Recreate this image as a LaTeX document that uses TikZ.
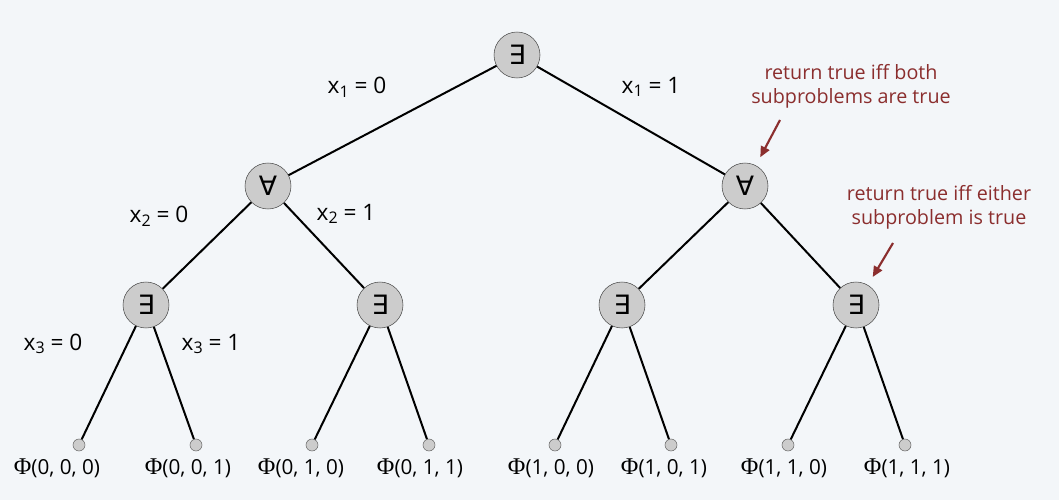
\documentclass[tikz,border=0pt]{standalone}
\usepackage{fontspec}
\setmainfont{Open Sans}
\newfontfamily\symfont{DejaVu Sans}
\newfontfamily\phifont{Liberation Serif}
\usetikzlibrary{arrows.meta}
\definecolor{bg}{HTML}{F3F6F9}
\definecolor{notecol}{HTML}{8B2E2E}
\newcommand{\leaflabel}[1]{{\phifont\fontsize{18}{18}\selectfont Φ}(#1)}
\newcommand{\xsub}[1]{x\raisebox{-0.3ex}{\fontsize{12}{12}\selectfont #1}}
\begin{document}
\begin{tikzpicture}[x=0.75pt,y=-0.75pt,
  opnode/.style={circle, draw=black!70, fill=gray!40, minimum size=34.5pt, inner sep=0pt,
    font=\symfont\fontsize{20}{20}\selectfont},
  leafnode/.style={circle, draw=black!60, fill=gray!40, minimum size=9pt, inner sep=0pt},
  edge/.style={draw=black, line width=1.5pt},
  edgelabel/.style={font=\fontsize{17}{19}\selectfont, inner sep=0pt},
  leaflab/.style={font=\fontsize{15.5}{17}\selectfont, inner sep=0pt},
  notetext/.style={text=notecol, align=center, font=\fontsize{14.8}{18}\selectfont, inner sep=0pt},
  notearrow/.style={draw=notecol, line width=1.6pt, -{Triangle[length=8pt,width=7pt]}, shorten >=7pt}
]
\fill[bg] (0,0) rectangle (1059,500);
\useasboundingbox (0,0) rectangle (1059,500);

% operator nodes
\node[opnode] (r) at (517,55) {∃};
\node[opnode] (a1) at (268,186) {∀};
\node[opnode] (a2) at (745,186) {∀};
\node[opnode] (e1) at (146,305) {∃};
\node[opnode] (e2) at (380,305) {∃};
\node[opnode] (e3) at (622,305) {∃};
\node[opnode] (e4) at (856,305) {∃};

% leaves
\node[leafnode] (l1) at (79,445) {};
\node[leafnode] (l2) at (196,445) {};
\node[leafnode] (l3) at (312,445) {};
\node[leafnode] (l4) at (429,445) {};
\node[leafnode] (l5) at (555,445) {};
\node[leafnode] (l6) at (671,445) {};
\node[leafnode] (l7) at (788,445) {};
\node[leafnode] (l8) at (905,445) {};

% edges
\draw[edge] (r) -- (a1);
\draw[edge] (r) -- (a2);
\draw[edge] (a1) -- (e1);
\draw[edge] (a1) -- (e2);
\draw[edge] (a2) -- (e3);
\draw[edge] (a2) -- (e4);
\draw[edge] (e1) -- (l1);
\draw[edge] (e1) -- (l2);
\draw[edge] (e2) -- (l3);
\draw[edge] (e2) -- (l4);
\draw[edge] (e3) -- (l5);
\draw[edge] (e3) -- (l6);
\draw[edge] (e4) -- (l7);
\draw[edge] (e4) -- (l8);

% edge labels
\node[edgelabel] (t1) at (357,87) {\xsub{1} = 0};
\node[edgelabel] (t2) at (651,87) {\xsub{1} = 1};
\node[edgelabel] (t3) at (159,216) {\xsub{2} = 0};
\node[edgelabel] (t4) at (346,214) {\xsub{2} = 1};
\node[edgelabel] (t5) at (53,344) {\xsub{3} = 0};
\node[edgelabel] (t6) at (211,344) {\xsub{3} = 1};

% leaf labels
\node[leaflab] (p1) at (57,468) {\leaflabel{0, 0, 0}};
\node[leaflab] (p2) at (188,468) {\leaflabel{0, 0, 1}};
\node[leaflab] (p3) at (301,468) {\leaflabel{0, 1, 0}};
\node[leaflab] (p4) at (420,468) {\leaflabel{0, 1, 1}};
\node[leaflab] (p5) at (551,468) {\leaflabel{1, 0, 0}};
\node[leaflab] (p6) at (664,468) {\leaflabel{1, 0, 1}};
\node[leaflab] (p7) at (784,468) {\leaflabel{1, 1, 0}};
\node[leaflab] (p8) at (907,468) {\leaflabel{1, 1, 1}};

% notes
\node[notetext] (n1) at (851,86) {return true iff both\\subproblems are true};
\node[notetext] (n2) at (939,207) {return true iff either\\subproblem is true};
\coordinate (c1) at (780,120);
\coordinate (c2) at (893,243);
\draw[notearrow] (c1) -- (a2);
\draw[notearrow] (c2) -- (e4);
\end{tikzpicture}
\end{document}
